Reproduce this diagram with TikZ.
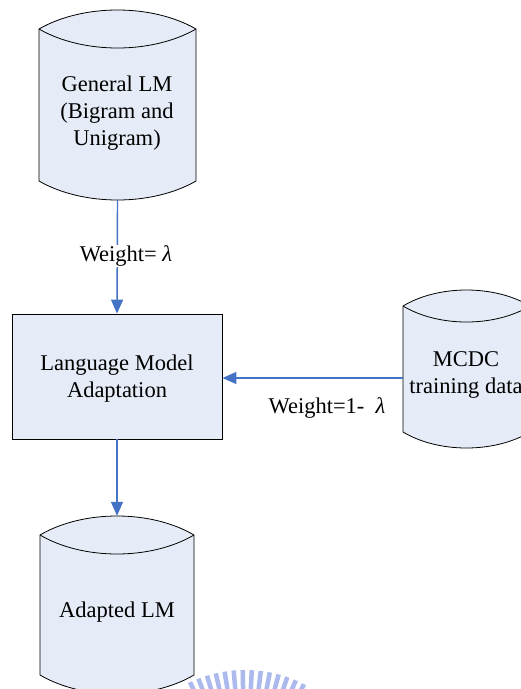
\documentclass[tikz,border=0pt]{standalone}
\usepackage{fontspec}
\setmainfont{Liberation Serif}
\usetikzlibrary{arrows.meta,calc}
\definecolor{cylfill}{RGB}{230,236,247}
\definecolor{arrowblue}{RGB}{68,114,196}
\definecolor{wmblue}{RGB}{150,168,232}
\newcommand\mycyl[5]{%
  \filldraw[fill=cylfill,draw=black,line width=0.8pt]
    (#1,{#3+#5}) .. controls ({#1+0.28*(#2-#1)},{#3+#5-#5/0.75}) and ({#2-0.28*(#2-#1)},{#3+#5-#5/0.75}) .. (#2,{#3+#5})
    -- (#2,{#4-#5})
    .. controls ({#2-0.28*(#2-#1)},{#4-#5+#5/0.75}) and ({#1+0.28*(#2-#1)},{#4-#5+#5/0.75}) .. (#1,{#4-#5})
    -- cycle;
  \draw[black,line width=0.8pt]
    (#1,{#3+#5}) .. controls ({#1+0.28*(#2-#1)},{#3+#5+#5/0.75}) and ({#2-0.28*(#2-#1)},{#3+#5+#5/0.75}) .. (#2,{#3+#5});
}
\begin{document}
\begin{tikzpicture}[x=1pt,y=-1pt,
  txt/.style={font=\fontsize{22.5}{27}\selectfont,align=center,inner sep=0pt},
  conn/.style={draw=arrowblue,line width=1.4pt,-{Triangle[width=12pt,length=14pt]}},
  lbl/.style={font=\fontsize{22.5}{27}\selectfont,fill=white,inner sep=1pt},
  wm/.style={draw=wmblue,line width=4.5pt,opacity=0.8}]
\useasboundingbox (0,0) rectangle (521,689);
\clip (0,0) rectangle (521,689);
% watermark (partly visible)
\coordinate (wmc) at (245,800);
\foreach \a in {245,249,...,297} {
  \draw[wm] ($(wmc)+(\a:108)$) -- ($(wmc)+(\a:130)$);
}
% cylinder shapes
\mycyl{39}{196}{10}{200}{19}
\mycyl{40}{194}{516}{694}{19}
\mycyl{403}{530}{290}{448}{16}
% named areas of the cylinders
\node[inner sep=0pt,minimum width=157pt,minimum height=190pt] (glm) at (117.5,105) {};
\node[inner sep=0pt,minimum width=154pt,minimum height=178pt] (alm) at (117,605) {};
\node[inner sep=0pt,minimum width=127pt,minimum height=158pt] (mcdc) at (466.5,369) {};
% texts of the cylinders
\node[txt] (glmtext) at (117,113) {General LM\\(Bigram and\\Unigram)};
\node[txt] (almtext) at (117,612) {Adapted LM};
\node[txt] (mcdctext) at (466,375) {MCDC\\training data};
% adaptation box
\node[draw=black,fill=cylfill,line width=0.8pt,minimum width=210pt,minimum height=125pt,inner sep=0pt] (adapt) at (117,376.5) {};
\node[txt] (adapttext) at (117,378.5) {Language Model\\Adaptation};
% connectors
\draw[conn] (glm.south) -- (adapt.north);
\draw[conn] (adapt.south) -- (alm.north);
\draw[conn] (mcdc.west |- 0,378) -- (adapt.east |- 0,378);
% labels
\node[lbl] (w1) at (126,256) {Weight= {\itshape λ}};
\node[lbl] (w2) at (327,408) {Weight=1-\ \ {\itshape λ}};
\end{tikzpicture}
\end{document}
